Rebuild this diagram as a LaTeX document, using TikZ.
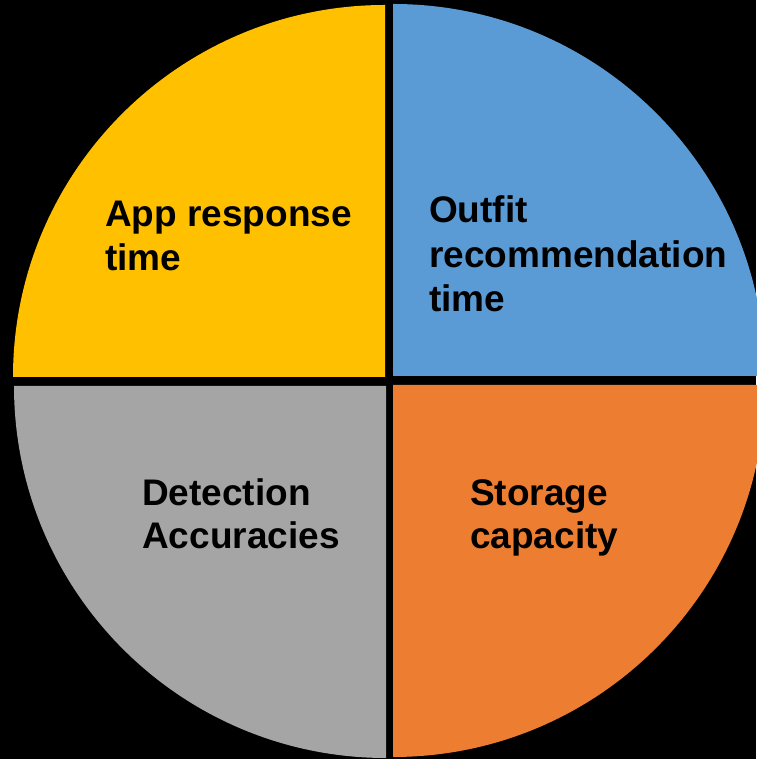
\documentclass[tikz,border=0pt]{standalone}
\usepackage{fontspec}
\setmainfont{Liberation Sans}
\definecolor{qyellow}{HTML}{FFC000}
\definecolor{qblue}{HTML}{5B9BD5}
\definecolor{qgray}{HTML}{A5A5A5}
\definecolor{qorange}{HTML}{ED7D31}
\begin{document}
\begin{tikzpicture}[x=1pt,y=1pt,
  lbl/.style={anchor=base west,inner sep=0pt,text=black,
    font=\fontsize{37}{44}\selectfont\bfseries}]
\fill[black] (0,0) rectangle (756,759);
\useasboundingbox (0,0) rectangle (756,759);
\fill[qyellow] (385,382) -- ++(-372,0) arc[start angle=180,end angle=90,radius=372] -- cycle;
\fill[qblue] (393,383) -- ++(0,372) arc[start angle=90,end angle=0,radius=372] -- cycle;
\fill[qgray] (386,373) -- ++(-372,0) arc[start angle=180,end angle=270,radius=372] -- cycle;
\fill[qorange] (393,374) -- ++(0,-372) arc[start angle=270,end angle=360,radius=372] -- cycle;
\node[lbl] (app1) at (105,532) {App response};
\node[lbl] (app2) at (105,488) {time};
\node[lbl] (outfit1) at (429,536) {Outfit};
\node[lbl] (outfit2) at (429,491) {recommendation};
\node[lbl] (outfit3) at (429,447) {time};
\node[lbl] (det1) at (142,253) {Detection};
\node[lbl] (det2) at (142,210) {Accuracies};
\node[lbl] (stor1) at (470,253) {Storage};
\node[lbl] (stor2) at (470,210) {capacity};
\end{tikzpicture}
\end{document}
